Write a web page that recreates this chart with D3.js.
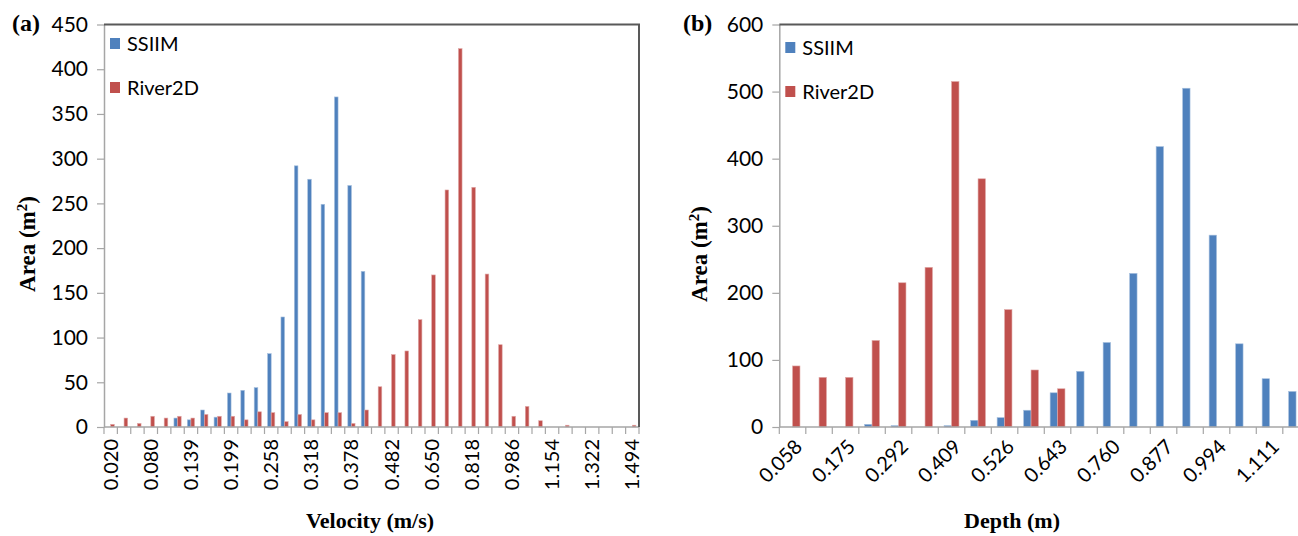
<!DOCTYPE html>
<html>
<head>
<meta charset="utf-8">
<script src="https://cdn.jsdelivr.net/npm/d3@7"></script>
<style>
  body { margin: 0; background: #fff; }
  svg { display: block; }
</style>
</head>
<body>
<script>
// panel (a): velocity classes (only every 3rd one is labelled)
const velocityBins = ['0.020', '0.040', '0.060', '0.080', '0.100', '0.119', '0.139', '0.159', '0.179', '0.199',
  '0.219', '0.238', '0.258', '0.278', '0.298', '0.318', '0.338', '0.358', '0.378', '0.412',
  '0.447', '0.482', '0.538', '0.594', '0.650', '0.706', '0.762', '0.818', '0.874', '0.930',
  '0.986', '1.042', '1.098', '1.154', '1.210', '1.266', '1.322', '1.379', '1.436', '1.494'];
const velocitySSIIM = [0, 0, 0, 0, 0, 10, 8, 19, 11, 38,
  41, 44, 82, 123, 292, 277, 249, 369, 270, 174,
  0, 0, 0, 0, 0, 0, 0, 0, 0, 0,
  0, 0, 0, 0, 0, 0, 0, 0, 0, 0];
const velocityRiver2D = [3, 10, 4, 12, 10, 12, 10, 14, 12, 12,
  8, 17, 16, 6, 14, 8, 16, 16, 4, 19,
  45, 81, 85, 120, 170, 265, 423, 268, 171, 92,
  12, 23, 7, 0, 2, 0, 0, 0, 0, 2];
const velocityTicks = [0, 50, 100, 150, 200, 250, 300, 350, 400, 450];

// panel (b): depth classes (every 2nd one labelled)
const depthBins = ['0.058', '0.117', '0.175', '0.234', '0.292', '0.351', '0.409', '0.468', '0.526', '0.585',
  '0.643', '0.702', '0.760', '0.819', '0.877', '0.936', '0.994', '1.053', '1.111', '1.170'];
const depthSSIIM = [0, 0, 0, 4, 2, 0, 2, 10, 14, 25,
  51, 83, 126, 229, 418, 505, 286, 124, 72, 53];
const depthRiver2D = [91, 74, 74, 129, 215, 238, 515, 370, 175, 85,
  57, 0, 0, 0, 0, 0, 0, 0, 0, 0];
const depthTicks = [0, 100, 200, 300, 400, 500, 600];

const seriesNames = ['SSIIM', 'River2D'];
const colors = ['#4f81bd', '#c0504d'];
const strokes = ['#a7c0de', '#e0a9a8'];

const W = 1298, H = 536;
const svg = d3.select('body').append('svg').attr('width', W).attr('height', H);

const sansFont = 'Lato, "Open Sans", sans-serif';
const serifFont = '"Liberation Serif", "DejaVu Serif", serif';

const drawPanel = (opt) => {
  const g = svg.append('g');
  const x = d3.scaleBand().domain(opt.bins).range([opt.left, opt.right]).paddingInner(0).paddingOuter(0);
  const bw = x.bandwidth();
  const gap = bw * opt.gap;
  const x1 = d3.scaleBand().domain(seriesNames).range([gap / 2, bw - gap / 2]).padding(0);
  const y = d3.scaleLinear().domain([0, opt.yMax]).range([opt.bottom, opt.top]);

  // y axis
  const yAxis = g.append('g')
    .attr('transform', `translate(${opt.left},0)`)
    .call(d3.axisLeft(y).tickValues(opt.yTicks).tickSize(7).tickPadding(9).tickSizeOuter(0));
  yAxis.select('.domain').attr('stroke', '#a6a6a6').attr('stroke-width', 1.5);
  yAxis.selectAll('.tick line').attr('stroke', '#a6a6a6').attr('stroke-width', 1.2);
  yAxis.selectAll('.tick text')
    .attr('font-family', sansFont).attr('font-size', 21).attr('fill', '#000');

  // bars
  const series = [opt.a, opt.b];
  series.forEach((vals, si) => {
    g.append('g').selectAll('rect')
      .data(vals.map((v, i) => ({ v: v, c: opt.bins[i] })))
      .join('rect')
      .attr('x', (d) => x(d.c) + x1(seriesNames[si]))
      .attr('width', x1.bandwidth())
      .attr('y', (d) => y(d.v))
      .attr('height', (d) => opt.bottom - y(d.v))
      .attr('fill', colors[si])
      .attr('stroke', strokes[si])
      .attr('stroke-width', 0.6);
  });

  // x axis: boundary ticks
  const xAxis = g.append('g').attr('transform', `translate(0,${opt.bottom})`);
  xAxis.append('line')
    .attr('x1', opt.left).attr('x2', opt.right)
    .attr('stroke', '#a6a6a6').attr('stroke-width', 1.5);
  const edges = opt.bins.map((c) => x(c)).concat([opt.right]);
  xAxis.selectAll('line.tk')
    .data(edges)
    .join('line')
    .attr('class', 'tk')
    .attr('x1', (d) => d).attr('x2', (d) => d)
    .attr('y1', 0).attr('y2', 7)
    .attr('stroke', '#a6a6a6').attr('stroke-width', 1.2);

  // x labels
  const shown = opt.bins.filter((c, i) => i % opt.every === 0);
  xAxis.selectAll('text.lb')
    .data(shown)
    .join('text')
    .attr('class', 'lb')
    .attr('transform', (d) => `translate(${x(d) + bw / 2 + opt.labelDx},${opt.labelDy}) rotate(${opt.rotate})`)
    .attr('text-anchor', 'end')
    .attr('dy', '0.35em')
    .attr('font-family', sansFont).attr('font-size', 20)
    .text((d) => d);

  // frame (top + right)
  g.append('line')
    .attr('x1', opt.left).attr('x2', opt.right + 1)
    .attr('y1', opt.top).attr('y2', opt.top)
    .attr('stroke', '#595959').attr('stroke-width', 2);
  g.append('line')
    .attr('x1', opt.right).attr('x2', opt.right)
    .attr('y1', opt.top).attr('y2', opt.bottom)
    .attr('stroke', '#595959').attr('stroke-width', 2);

  // legend
  seriesNames.forEach((s, i) => {
    const ly = opt.legendY + i * opt.legendStep;
    g.append('rect')
      .attr('x', opt.left + 6).attr('y', ly - 6)
      .attr('width', 10).attr('height', 11)
      .attr('fill', colors[i]);
    g.append('text')
      .attr('x', opt.left + 23).attr('y', ly)
      .attr('dy', '0.35em')
      .attr('font-family', sansFont).attr('font-size', 20)
      .text(s);
  });

  // titles
  g.append('text')
    .attr('x', opt.panelX).attr('y', 31)
    .attr('font-family', serifFont).attr('font-weight', 'bold').attr('font-size', 24)
    .text(opt.panel);
  g.append('text')
    .attr('transform', `translate(${opt.yTitleX},${opt.yTitleY}) rotate(-90)`)
    .attr('text-anchor', 'middle')
    .attr('font-family', serifFont).attr('font-weight', 'bold').attr('font-size', 23)
    .text('Area (m')
    .append('tspan').attr('baseline-shift', 'super').attr('font-size', 15).text('2')
    .select(function () { return this.parentNode; })
    .append('tspan').text(')');
  g.append('text')
    .attr('x', opt.xTitleX).attr('y', 528)
    .attr('text-anchor', 'middle')
    .attr('font-family', serifFont).attr('font-weight', 'bold').attr('font-size', 22)
    .text(opt.xTitle);
};

drawPanel({
  bins: velocityBins, a: velocitySSIIM, b: velocityRiver2D,
  yMax: 450, yTicks: velocityTicks,
  left: 104, right: 639, top: 24.5, bottom: 427,
  gap: 0.46, every: 3, rotate: -90, labelDx: 0, labelDy: 12,
  legendY: 44, legendStep: 44,
  panel: '(a)', panelX: 12, yTitleX: 35, yTitleY: 244,
  xTitle: 'Velocity (m/s)', xTitleX: 370
});

drawPanel({
  bins: depthBins, a: depthSSIIM, b: depthRiver2D,
  yMax: 600, yTicks: depthTicks,
  left: 779.3, right: 1309.3, top: 24.5, bottom: 427,
  gap: 0.44, every: 2, rotate: -45, labelDx: 6, labelDy: 16,
  legendY: 48, legendStep: 44,
  panel: '(b)', panelX: 683, yTitleX: 707, yTitleY: 254,
  xTitle: 'Depth (m)', xTitleX: 1012
});
</script>
</body>
</html>
